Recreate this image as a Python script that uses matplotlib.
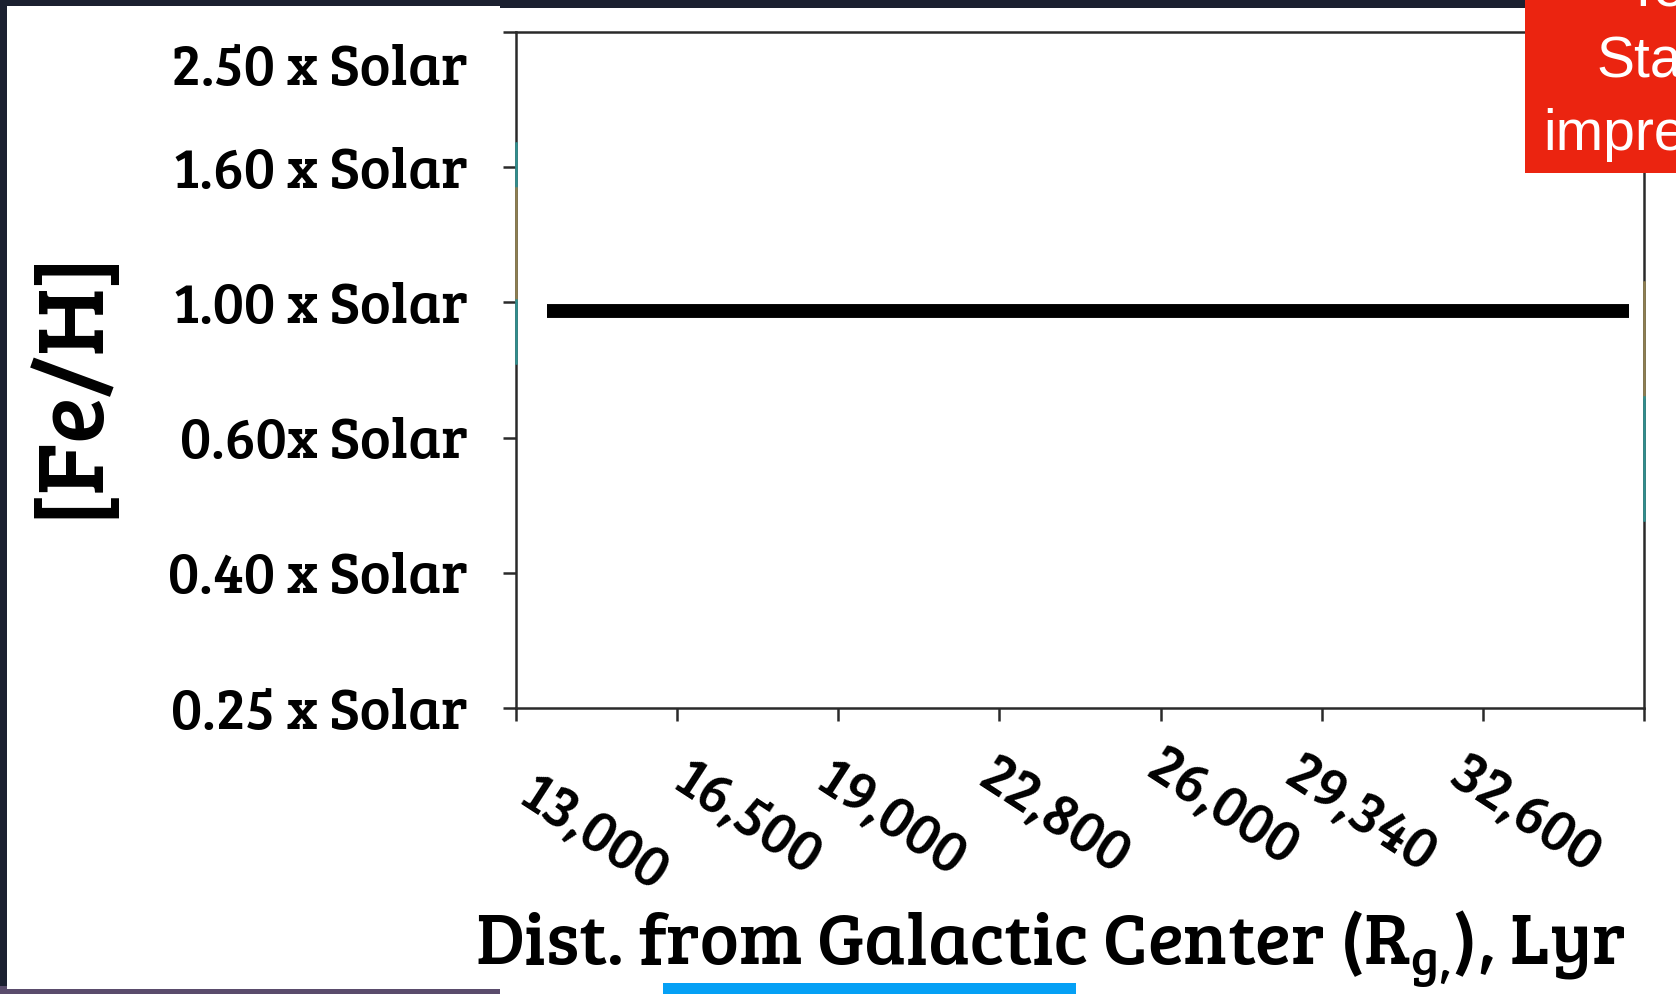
import matplotlib
matplotlib.use("Agg")
import matplotlib.pyplot as plt
from matplotlib.patches import Rectangle
from matplotlib.transforms import ScaledTranslation

# [Fe/H] in dex, shown as multiples of the solar value
feh_ticks = [-0.6, -0.4, -0.2, 0.0, 0.2, 0.4]
feh_labels = ["0.25 x Solar", "0.40 x Solar", "0.60x Solar",
              "1.00 x Solar", "1.60 x Solar", "2.50 x Solar"]

# galactocentric radius in kpc, labelled in light years
rg_ticks = [4, 5, 6, 7, 8, 9, 10, 11]
rg_labels = ["13,000", "16,500", "19,000", "22,800", "26,000", "29,340", "32,600", ""]

# flat solar-metallicity line across the disc
flat_rg = [4.19, 10.91]
flat_feh = [-0.013, -0.013]

# leftover model-track colours sitting on the frame edges
left_edge = [(0.236, 0.169, "#2f8f8f"), (0.169, 0.004, "#8f7f50"), (0.004, -0.090, "#2f8f8f")]
right_edge = [(0.030, -0.140, "#8f7f50"), (-0.140, -0.322, "#2f8f8f")]

W, H = 1676, 994
SERIF = "Bree Serif"

# hand nudges (px) for the slanted distance labels
label_nudge = [(2, 0), (-6, -15), (-24, -15), (-23, -18), (-16, -27), (-39, -20), (-35, -20), (0, 0)]

plt.rcParams["mathtext.fontset"] = "custom"
plt.rcParams["mathtext.rm"] = SERIF


def box(x0, y0, x1, y1, color, z):
    # rectangle given in pixels from the top-left corner
    return Rectangle((x0 / W, 1 - y1 / H), (x1 - x0) / W, (y1 - y0) / H,
                     transform=fig.transFigure, facecolor=color, edgecolor="none", zorder=z)


fig = plt.figure(figsize=(W / 100, H / 100), dpi=100, facecolor="#1b2030")

fig.add_artist(box(0, 986, 500, 994, "#5a4c6c", -3))
fig.add_artist(box(7, 6, 500, 989, "white", -2))
fig.add_artist(box(500, 8, W, H, "white", -2))

ax = fig.add_axes([516 / W, 1 - 708 / H, 1128 / W, 676 / H])
ax.set_xlim(4, 11)
ax.set_ylim(-0.6, 0.4)

ax.plot(flat_rg, flat_feh, color="black", lw=10, solid_capstyle="butt")

for y0, y1, c in left_edge:
    ax.plot([4, 4], [y0, y1], color=c, lw=1.8, clip_on=False, zorder=3)
for y0, y1, c in right_edge:
    ax.plot([11, 11], [y0, y1], color=c, lw=1.8, clip_on=False, zorder=3)

for s in ax.spines.values():
    s.set_color("#2a2a2a")
    s.set_linewidth(1.8)

ax.set_yticks(feh_ticks, labels=feh_labels)
ax.set_xticks(rg_ticks, labels=rg_labels)
ax.tick_params(axis="both", direction="out", length=9.4, width=1.8, color="#2a2a2a")
ax.tick_params(axis="y", pad=25)
ax.tick_params(axis="x", pad=33)

for lab in ax.get_yticklabels():
    lab.set_fontfamily(SERIF)
    lab.set_fontsize(42)
# top label sits a little below its tick
ax.get_yticklabels()[-1].set_transform(
    ax.get_yticklabels()[-1].get_transform() + ScaledTranslation(0, -0.32, fig.dpi_scale_trans))

for lab, (dx, dy) in zip(ax.get_xticklabels(), label_nudge):
    lab.set_fontfamily(SERIF)
    lab.set_fontsize(42)
    lab.set_rotation(-33)
    lab.set_rotation_mode("anchor")
    lab.set_ha("left")
    lab.set_va("top")
    lab.set_transform(lab.get_transform() +
                      ScaledTranslation((21 + dx) / 100, -dy / 100, fig.dpi_scale_trans))

ax.set_xlabel(r"Dist. from Galactic Center (R$_{\mathregular{g{,}}}$), Lyr",
              fontfamily=SERIF, fontsize=53, va="baseline")
ax.xaxis.set_label_coords((1050 - 516) / 1128, (708 - 965) / 676)

ax.set_ylabel("[Fe/H]", fontfamily=SERIF, fontsize=69, va="center", ha="center")
ax.yaxis.set_label_coords((72 - 516) / 1128, (708 - 383) / 676)

# red callout in the top-right corner, cut by the edge
fig.add_artist(box(1525, 0, W, 173, "#eb2410", 5))
for x, y, t in [(1626, 6, "Te"), (1596, 78, "Sta"), (1543, 150, "impre")]:
    fig.text(x / W, 1 - y / H, t, color="white", fontsize=41,
             fontfamily="Liberation Sans", va="baseline", ha="left", zorder=6)

# blue underline strip along the bottom
fig.add_artist(box(663, 983, 1076, H, "#05a0f5", 5))

fig.savefig("out.png", dpi=100, facecolor=fig.get_facecolor())
